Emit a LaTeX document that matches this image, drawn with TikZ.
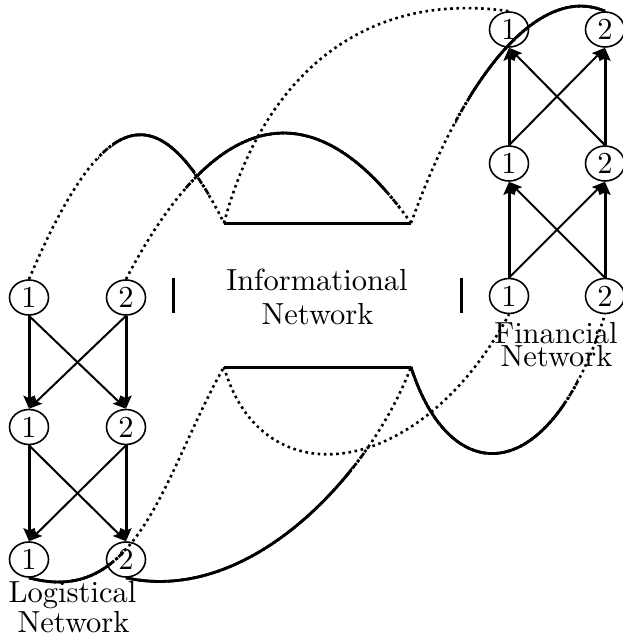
\documentclass[tikz,border=0pt]{standalone}
\usepackage{graphicx}
\usetikzlibrary{arrows.meta,shapes.geometric}
\newcommand\bigtext[1]{\scalebox{3.05}{#1}}
\newcommand\layeredcurve[3]{%
  \draw[dotcurve] #1;
  \begin{scope}\clip #2; \draw[densecurve] #1; \end{scope}
  \begin{scope}\clip #3; \draw[solidcurve] #1; \end{scope}}
\begin{document}
\begin{tikzpicture}[x=1pt,y=-1pt,
  netnode/.style={ellipse,draw,line width=1.6pt,minimum width=39pt,minimum height=35pt,inner sep=0pt},
  txt/.style={anchor=base,inner sep=0pt},
  thickarrow/.style={line width=3pt,-{Stealth[length=13pt,width=11pt,inset=2.5pt]}},
  thinarrow/.style={line width=2pt,-{Stealth[length=13pt,width=11pt,inset=2.5pt]}},
  dotcurve/.style={line width=2.6pt,dash pattern=on 2.6pt off 3.6pt},
  densecurve/.style={line width=2.7pt,dash pattern=on 2.7pt off 1.5pt},
  solidcurve/.style={line width=2.8pt},
  barline/.style={line width=3pt}
]
\useasboundingbox (0,0) rectangle (623,634);

% Logistical network
\node[netnode] (L1a) at (29,297.5) {\bigtext{1}};
\node[netnode] (L2a) at (126,297.5) {\bigtext{2}};
\node[netnode] (L1b) at (29,427) {\bigtext{1}};
\node[netnode] (L2b) at (126,427) {\bigtext{2}};
\node[netnode] (L1c) at (29,559.5) {\bigtext{1}};
\node[netnode] (L2c) at (126,559.5) {\bigtext{2}};
\node[txt] (Ltxt1) at (72.5,602.5) {\bigtext{Logistical}};
\node[txt] (Ltxt2) at (73.5,632) {\bigtext{Network}};

% Financial network
\node[netnode] (F1a) at (509,29.5) {\bigtext{1}};
\node[netnode] (F2a) at (605,29.5) {\bigtext{2}};
\node[netnode] (F1b) at (509,163.5) {\bigtext{1}};
\node[netnode] (F2b) at (605,163.5) {\bigtext{2}};
\node[netnode] (F1c) at (509,296) {\bigtext{1}};
\node[netnode] (F2c) at (605,296) {\bigtext{2}};
\node[txt] (Ftxt1) at (556,343) {\bigtext{Financial}};
\node[txt] (Ftxt2) at (556.5,366) {\bigtext{Network}};

% Informational network
\node[txt] (Itxt1) at (317,290) {\bigtext{Informational}};
\node[txt] (Itxt2) at (317.5,324) {\bigtext{Network}};
\coordinate (TL) at (224,223);
\coordinate (TR) at (411,223);
\coordinate (BL) at (224,367);
\coordinate (BR) at (411,367);
\draw[barline] (TL) -- (TR);
\draw[barline] (BL) -- (BR);
\coordinate (barLt) at (173,278);
\coordinate (barLb) at (173,313);
\coordinate (barRt) at (461,278);
\coordinate (barRb) at (461,313);
\draw[barline] (barLt) -- (barLb);
\draw[barline] (barRt) -- (barRb);

% arrows logistical
\draw[thickarrow] (L1a.south) -- (L1b.north);
\draw[thickarrow] (L2a.south) -- (L2b.north);
\draw[thinarrow] (L1a.south) -- (L2b.north);
\draw[thinarrow] (L2a.south) -- (L1b.north);
\draw[thickarrow] (L1b.south) -- (L1c.north);
\draw[thickarrow] (L2b.south) -- (L2c.north);
\draw[thinarrow] (L1b.south) -- (L2c.north);
\draw[thinarrow] (L2b.south) -- (L1c.north);

% arrows financial
\draw[thickarrow] (F1c.north) -- (F1b.south);
\draw[thickarrow] (F2c.north) -- (F2b.south);
\draw[thinarrow] (F1c.north) -- (F2b.south);
\draw[thinarrow] (F2c.north) -- (F1b.south);
\draw[thickarrow] (F1b.north) -- (F1a.south);
\draw[thickarrow] (F2b.north) -- (F2a.south);
\draw[thinarrow] (F1b.north) -- (F2a.south);
\draw[thinarrow] (F2b.north) -- (F1a.south);

% curves (dotted, with denser solid-looking stretches)
\layeredcurve{(L1a.north) .. controls (105,100) and (160,95) .. (TL)}
  {(98,100) rectangle (210,215)}{(112,100) rectangle (195,200)}

\layeredcurve{(L2a.north) .. controls (230,80) and (330,108) .. (TR)}
  {(185,100) rectangle (400,215)}{(198,100) rectangle (386,200)}

\draw[dotcurve] (TL) .. controls (262,80) and (360,-10) .. (F1a.north);

\layeredcurve{(TR) .. controls (470,60) and (545,-15) .. (F2a.north)}
  {(455,-20) rectangle (623,130)}{(468,-20) rectangle (623,110)}

\layeredcurve{(L1c.south) .. controls (140,608) and (165,470) .. (BL)}
  {(0,530) rectangle (125,620)}{(0,540) rectangle (112,620)}

\layeredcurve{(L2c.south) .. controls (250,605) and (370,475) .. (BR)}
  {(100,430) rectangle (365,620)}{(100,440) rectangle (352,620)}

\draw[dotcurve] (BL) .. controls (262,500) and (420,480) .. (F1c.south);

\layeredcurve{(BR) .. controls (450,490) and (550,490) .. (F2c.south)}
  {(400,360) rectangle (578,480)}{(400,360) rectangle (565,480)}
\end{tikzpicture}
\end{document}
